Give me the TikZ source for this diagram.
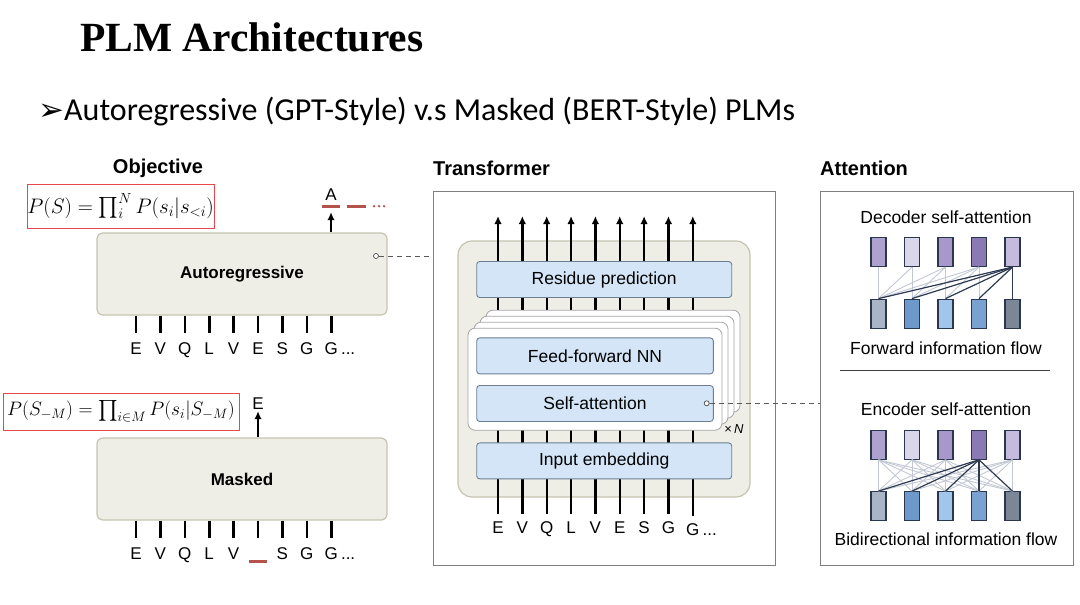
\RequirePackage{fix-cm}
\documentclass[tikz,border=0pt]{standalone}
\usepackage{amsmath}
\usepackage{fontspec}
\setmainfont{Liberation Sans}
\newfontfamily\titlefont{Liberation Serif}
\newfontfamily\slidefont{Carlito}
\newfontfamily\symbolfont{DejaVu Sans}
\usepackage{xcolor}
\usepackage{tikz}
\usetikzlibrary{calc,arrows.meta}

\definecolor{boxfill}{HTML}{EFEEE6}
\definecolor{boxline}{HTML}{C6C3B0}
\definecolor{bluefill}{HTML}{D3E5F6}
\definecolor{blueline}{HTML}{6B7F95}
\definecolor{maskred}{HTML}{B5524A}
\definecolor{formred}{HTML}{E8474A}
\definecolor{framegray}{HTML}{7F7F7F}
\definecolor{linklight}{HTML}{C2C7D4}
\definecolor{linkdark}{HTML}{2E3A52}
\definecolor{cellline}{HTML}{2B3650}
\definecolor{tA}{HTML}{ADA2CF}
\definecolor{tB}{HTML}{D9D5EA}
\definecolor{tC}{HTML}{A797CA}
\definecolor{tD}{HTML}{8B79B3}
\definecolor{tE}{HTML}{C6BBDD}
\definecolor{bA}{HTML}{A8B5C7}
\definecolor{bB}{HTML}{6E9ACB}
\definecolor{bC}{HTML}{A0C7E9}
\definecolor{bD}{HTML}{7AA2D0}
\definecolor{bE}{HTML}{7B8797}

\begin{document}
\begin{tikzpicture}[x=1pt,y=-1pt,
    head/.style={anchor=west,inner sep=0,font=\fontsize{20}{23}\selectfont\bfseries},
    formula/.style={draw=formred,line width=1pt,inner sep=0,font=\fontsize{21}{25}\selectfont},
    plmbox/.style={draw=boxline,fill=boxfill,line width=1.2pt,rounded corners=6pt,minimum width=290pt,minimum height=82pt,font=\fontsize{17}{20}\selectfont\bfseries},
    tok/.style={inner sep=0,text height=12pt,text depth=0pt,font=\fontsize{17}{20}\selectfont},
    tick/.style={line width=2.6pt},
    uparrow/.style={line width=2.4pt,-{Latex[length=8pt,width=7.5pt]}},
    maskdash/.style={maskred,line width=3pt},
    port/.style={circle,draw=black!70,fill=white,line width=0.7pt,inner sep=0,minimum size=5pt},
    link/.style={black!65,line width=0.9pt,dash pattern=on 5pt off 4pt},
    frame/.style={draw=framegray,line width=1pt},
    bluebox/.style={draw=blueline,fill=bluefill,line width=0.9pt,rounded corners=3pt,minimum height=36pt,font=\fontsize{17.5}{20}\selectfont},
    layer/.style={draw=black!35,fill=white,line width=0.8pt,rounded corners=7pt,minimum width=254pt,minimum height=102pt},
    caption/.style={inner sep=0,font=\fontsize{17.5}{20}\selectfont},
    cell/.style={draw=cellline,line width=1.2pt,minimum width=15pt,minimum height=29pt,inner sep=0},
    light/.style={linklight,line width=0.9pt},
    dark/.style={linkdark,line width=1.2pt}]
\useasboundingbox (0,0) rectangle (1080,605);

% slide title
\node[anchor=west,inner sep=0] (title) at (80,37) {\titlefont\bfseries\fontsize{41.5}{47}\selectfont PLM Architectures};
\node[anchor=west,inner sep=0] (subtitle) at (38,112) {{\symbolfont\fontsize{31}{34}\selectfont ➢}\slidefont\fontsize{32}{36}\selectfont Autoregressive (GPT-Style) v.s Masked (BERT-Style) PLMs};

% objective column
\node[head,anchor=center] (objhead) at (158,168) {Objective};
\node[formula,minimum width=187pt,minimum height=44pt] (arform) at (120.5,206) {$P(S)=\textstyle\prod_i^N P(s_i|s_{<i})$};
\node[plmbox] (ar) at (242,274) {Autoregressive};
\foreach \t [count=\i] in {E,V,Q,L,V,E,S,G,G}{
  \node[tok] (ta\i) at ({136+(\i-1)*24.4},348) {\t};
  \draw[tick] (ta\i.north |- ar.south) -- ([yshift=9pt]ta\i.north);
}
\node[tok,anchor=base west] (tadots) at (ta9.base east) {\,...};
\node[tok] (outA) at (331,194) {A};
\draw[uparrow] (ar.north -| outA) -- ([yshift=-12pt]outA.south);
\draw[maskdash] ([xshift=-9pt,yshift=-6pt]outA.south) -- ([xshift=9pt,yshift=-6pt]outA.south);
\draw[maskdash] ([xshift=16pt,yshift=-6pt]outA.south) -- ([xshift=35pt,yshift=-6pt]outA.south);
\foreach \d in {43,48,53} \fill[maskred] ([xshift=\d pt,yshift=-6pt]outA.south) circle (1.3pt);
\node[port] (arport) at (376,256) {};

\node[formula,minimum width=236pt,minimum height=37pt,font=\fontsize{19.5}{23}\selectfont] (mform) at (121,411.5) {$P(S_{-M})=\textstyle\prod_{i\in M}P(s_i|S_{-M})$};
\node[plmbox] (mk) at (242,479) {Masked};
\foreach \t [count=\i] in {E,V,Q,L,V,{},S,G,G}{
  \node[tok] (tm\i) at ({136+(\i-1)*24.4},553) {\t};
  \draw[tick] (tm\i.north |- mk.south) -- ([yshift=9pt]tm\i.north);
}
\node[tok,anchor=base west] (tmdots) at (tm9.base east) {\,...};
\draw[maskdash] ([xshift=-9pt,yshift=-2pt]tm6.south) -- ([xshift=9pt,yshift=-2pt]tm6.south);
\node[tok] (outE) at (258,403) {E};
\draw[uparrow] (mk.north -| outE) -- ([yshift=-2pt]outE.south);

% transformer column
\node[head] (tfhead) at (433,168) {Transformer};
\node[frame,minimum width=342pt,minimum height=374pt] (tf) at (604,378) {};
\node[draw=boxline,fill=boxfill,line width=1.2pt,rounded corners=14pt,minimum width=292pt,minimum height=256pt] (core) at (604,369) {};
\foreach \t [count=\i] in {E,V,Q,L,V,E,S,G}{
  \node[tok] (tt\i) at ({498+(\i-1)*24.35},527) {\t};
}
\node[tok] (tt9) at ({498+8*24.35},529) {G};
\node[tok,anchor=base west] (ttdots) at (tt9.base east) {\,...};
\foreach \i in {1,...,9}{
  \coordinate (top\i) at ({498+(\i-1)*24.35},216);
  \draw[uparrow] ([yshift=7pt]tt\i.north) -- (top\i);
}
\node[bluebox,minimum width=255pt] (resid) at (604.2,279.5) {Residue prediction};
\foreach \k in {3,2,1}{
  \node[layer] (layer\k) at ({595+6*\k},{379.2-6*\k}) {};
}
\node[layer] (layer0) at (595,379.2) {};
\node[bluebox,minimum width=236.6pt] (ffnn) at (595,355.9) {Feed-forward NN};
\node[bluebox,minimum width=236.6pt] (selfatt) at (595,403.5) {Self-attention};
\node[bluebox,minimum width=255pt] (embed) at (604.2,460.9) {Input embedding};
\node[inner sep=0,font=\fontsize{13}{15}\selectfont] (times) at (734,429) {×\,\textit{N}};
\node[port] (saport) at (706.7,403.3) {};

% attention column
\node[head] (athead) at (820,168) {Attention};
\node[frame,minimum width=253pt,minimum height=374pt] (att) at (946.5,378) {};
\node[caption] (dechead) at (946,217) {Decoder self-attention};
\node[caption] (dectail) at (946,348) {Forward information flow};
\draw[black!75,line width=0.8pt] (840,370.7) -- (1050,370.7);
\node[caption] (enchead) at (946,409) {Encoder self-attention};
\node[caption] (enctail) at (946,539) {Bidirectional information flow};
\foreach \a/\b [count=\i] in {tA/bA,tB/bB,tC/bC,tD/bD,tE/bE}{
  \node[cell,fill=\a] (dt\i) at ({878.5+(\i-1)*33.5},252) {};
  \node[cell,fill=\b] (db\i) at ({878.5+(\i-1)*33.5},313.7) {};
  \node[cell,fill=\a] (et\i) at ({878.5+(\i-1)*33.5},444.7) {};
  \node[cell,fill=\b] (eb\i) at ({878.5+(\i-1)*33.5},506.2) {};
}
\foreach \i in {1,...,4}{
  \foreach \j in {1,...,\i} \draw[light] (dt\i.south) -- (db\j.north);
}
\foreach \j in {1,...,5} \draw[dark] (dt5.south) -- (db\j.north);
\foreach \i in {1,2,3,5}{
  \foreach \j in {1,...,5} \draw[light] (et\i.south) -- (eb\j.north);
}
\foreach \j in {1,...,5} \draw[dark] (et4.south) -- (eb\j.north);

% dashed links
\draw[link] (arport) -- (arport -| tf.west);
\draw[link] (saport) -- (saport -| att.west);
\end{tikzpicture}
\end{document}
